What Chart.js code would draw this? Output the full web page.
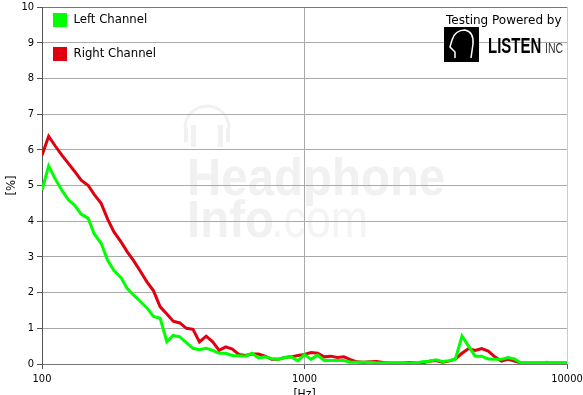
<!DOCTYPE html>
<html>
<head>
<meta charset="utf-8">
<title>Headphone THD</title>
<script src="https://cdn.jsdelivr.net/npm/chart.js@4/dist/chart.umd.min.js"></script>
<style>
    html, body { margin: 0; padding: 0; background: #fff; }
    canvas { display: block; }
</style>
</head>
<body>
<canvas id="grafico" width="583" height="395"></canvas>
<script>
// Dati
const frequenze = [100, 106, 112, 119, 126, 133, 141, 150, 158, 168, 178, 188, 200, 211, 224, 237, 251, 266, 282, 299,
    316, 335, 355, 376, 398, 422, 447, 473, 501, 531, 562, 596, 631, 668, 708, 750, 794, 841, 891, 944,
    1000, 1059, 1122, 1189, 1259, 1334, 1413, 1496, 1585, 1679, 1778, 1884, 1995, 2113, 2239, 2371, 2512, 2661, 2818, 2985,
    3162, 3350, 3548, 3758, 3981, 4217, 4467, 4732, 5012, 5309, 5623, 5957, 6310, 6683, 7079, 7499, 7943, 8414, 8913, 9441, 10000];

const canaleSinistro = [4.87, 5.55, 5.2, 4.87, 4.6, 4.45, 4.2, 4.08, 3.65, 3.38, 2.9, 2.62, 2.42, 2.12, 1.92, 1.75, 1.57, 1.33, 1.28, 0.62,
    0.8, 0.76, 0.6, 0.44, 0.4, 0.44, 0.38, 0.3, 0.3, 0.24, 0.23, 0.22, 0.3, 0.17, 0.2, 0.15, 0.13, 0.18, 0.2, 0.09,
    0.27, 0.13, 0.25, 0.1, 0.1, 0.1, 0.1, 0.05, 0.05, 0.05, 0.05, 0.03, 0.03, 0.03, 0.03, 0.03, 0.03, 0.03, 0.06, 0.08,
    0.12, 0.07, 0.09, 0.14, 0.78, 0.5, 0.22, 0.22, 0.14, 0.13, 0.13, 0.18, 0.14, 0.03, 0.03, 0.03, 0.03, 0.05, 0.03, 0.03, 0.03];

const canaleDestro = [5.85, 6.38, 6.12, 5.85, 5.62, 5.4, 5.15, 5.0, 4.75, 4.5, 4.05, 3.7, 3.42, 3.15, 2.88, 2.6, 2.3, 2.05, 1.6, 1.4,
    1.2, 1.15, 1.0, 0.97, 0.62, 0.78, 0.62, 0.38, 0.48, 0.42, 0.27, 0.24, 0.28, 0.28, 0.22, 0.13, 0.13, 0.18, 0.2, 0.24,
    0.27, 0.32, 0.3, 0.2, 0.22, 0.18, 0.2, 0.12, 0.06, 0.05, 0.06, 0.07, 0.04, 0.03, 0.03, 0.03, 0.04, 0.03, 0.03, 0.08,
    0.1, 0.05, 0.08, 0.14, 0.3, 0.43, 0.38, 0.43, 0.36, 0.2, 0.08, 0.13, 0.08, 0.03, 0.03, 0.03, 0.03, 0.03, 0.03, 0.03, 0.03];

const tickFrequenze = [100, 1000, 10000];

const fontAssi = '"DejaVu Sans Condensed", "DejaVu Sans"';

function punti(valori) {
    return frequenze.map((f, i) => ({ x: f, y: valori[i] }));
}

// Filigrana e logo disegnati a mano, la legenda viene solo spostata
const sfondoPlugin = {
    id: 'sfondo',
    afterLayout(chart) {
        chart.legend.left -= 9;
        chart.legend.top -= 7;
    },
    beforeDraw(chart) {
        const c = chart.ctx;
        c.save();
        c.fillStyle = '#f1f1f1';
        c.strokeStyle = '#f1f1f1';
        c.textBaseline = 'alphabetic';
        c.save();
        c.translate(187, 0);
        c.scale(0.93, 1);
        c.font = 'bold 51px "Liberation Sans"';
        c.fillText('Headphone', 0, 195);
        c.fillText('Info', 0, 237);
        c.restore();
        c.save();
        c.translate(271, 0);
        c.scale(0.88, 1);
        c.fillStyle = '#f4f4f4';
        c.font = '51px "Liberation Sans"';
        c.fillText('.com', 0, 237);
        c.restore();
        // cuffie
        c.lineWidth = 3;
        c.beginPath();
        c.arc(207, 128, 22, Math.PI, 0);
        c.stroke();
        c.fillRect(191, 125, 5, 22);
        c.fillRect(218, 125, 5, 22);
        c.fillRect(184, 128, 4, 14);
        c.fillRect(226, 128, 4, 14);
        c.restore();
    },
    afterDraw(chart) {
        const c = chart.ctx;
        c.save();
        c.fillStyle = '#000';
        c.font = '12px "DejaVu Sans"';
        c.textBaseline = 'alphabetic';
        c.fillText('Testing Powered by', 446, 24);
        // logo LISTEN
        c.fillRect(444, 27, 35, 35);
        c.strokeStyle = '#fff';
        c.lineWidth = 1.5;
        c.beginPath();
        c.moveTo(455, 58);
        c.lineTo(455, 52);
        c.lineTo(450, 47);
        c.lineTo(452, 40);
        c.quadraticCurveTo(455, 30, 465, 30);
        c.quadraticCurveTo(474, 32, 473, 44);
        c.lineTo(471, 58);
        c.stroke();
        c.fillStyle = '#000';
        c.font = 'bold 22px "Liberation Sans"';
        c.save();
        c.translate(488, 53);
        c.scale(0.68, 1);
        c.fillText('LISTEN', 0, 0);
        c.restore();
        c.fillStyle = '#333';
        c.font = '15px "Liberation Sans"';
        c.save();
        c.translate(545, 53);
        c.scale(0.7, 1);
        c.fillText('INC', 0, 0);
        c.restore();
        c.restore();
    }
};

new Chart(document.getElementById('grafico').getContext('2d'), {
    type: 'scatter',
    data: {
        datasets: [{
            label: 'Left Channel',
            data: punti(canaleSinistro),
            showLine: true,
            borderColor: '#00ff00',
            backgroundColor: '#00ff00',
            borderWidth: 3,
            pointRadius: 0
        }, {
            label: 'Right Channel',
            data: punti(canaleDestro),
            showLine: true,
            borderColor: '#e00010',
            backgroundColor: '#e00010',
            borderWidth: 3,
            pointRadius: 0
        }]
    },
    plugins: [sfondoPlugin],
    options: {
        responsive: false,
        animation: false,
        layout: { padding: { top: 7, right: 16, left: 0, bottom: 0 } },
        plugins: {
            legend: {
                position: 'chartArea',
                align: 'start',
                labels: {
                    boxWidth: 14,
                    boxHeight: 14,
                    padding: 20,
                    color: '#000',
                    font: { size: 13, family: fontAssi },
                    generateLabels(chart) {
                        return chart.data.datasets.map((d, i) => ({
                            text: d.label,
                            fillStyle: d.backgroundColor,
                            strokeStyle: d.backgroundColor,
                            lineWidth: 0,
                            datasetIndex: i
                        }));
                    }
                }
            },
            tooltip: { enabled: false }
        },
        scales: {
            x: {
                type: 'logarithmic',
                min: 100,
                max: 10000,
                afterBuildTicks(scale) {
                    scale.ticks = tickFrequenze.map(v => ({ value: v }));
                },
                afterFit(scale) {
                    scale.height = 31;
                    scale.paddingLeft = 0;
                    scale.paddingRight = 0;
                },
                grid: {
                    color: (ctx) => ctx.tick && ctx.tick.value === 10000 ? '#cccccc' : '#aaaaaa',
                    tickColor: '#555',
                    tickLength: 5,
                    lineWidth: 1
                },
                border: { color: '#777', width: 1 },
                ticks: {
                    color: '#000',
                    autoSkip: false,
                    maxRotation: 0,
                    padding: 4,
                    font: { size: 11, family: fontAssi },
                    callback: (v) => String(v)
                },
                title: {
                    display: true,
                    text: '[Hz]',
                    color: '#000',
                    font: { size: 12, family: fontAssi },
                    padding: { top: 0, bottom: -7 }
                }
            },
            y: {
                min: 0,
                max: 10,
                afterFit(scale) {
                    scale.width = 42;
                    scale.paddingTop = 0;
                    scale.paddingBottom = 0;
                },
                grid: {
                    color: (ctx) => ctx.tick && ctx.tick.value === 10 ? '#777777' : '#aaaaaa',
                    tickColor: '#555',
                    tickLength: 5,
                    lineWidth: 1
                },
                border: { color: '#555', width: 1 },
                ticks: {
                    stepSize: 1,
                    color: '#000',
                    padding: 3,
                    font: { size: 11, family: fontAssi }
                },
                title: {
                    display: true,
                    text: '[%]',
                    color: '#000',
                    font: { size: 13, family: fontAssi },
                    padding: { top: 4, bottom: 0 }
                }
            }
        }
    }
});
</script>
</body>
</html>
